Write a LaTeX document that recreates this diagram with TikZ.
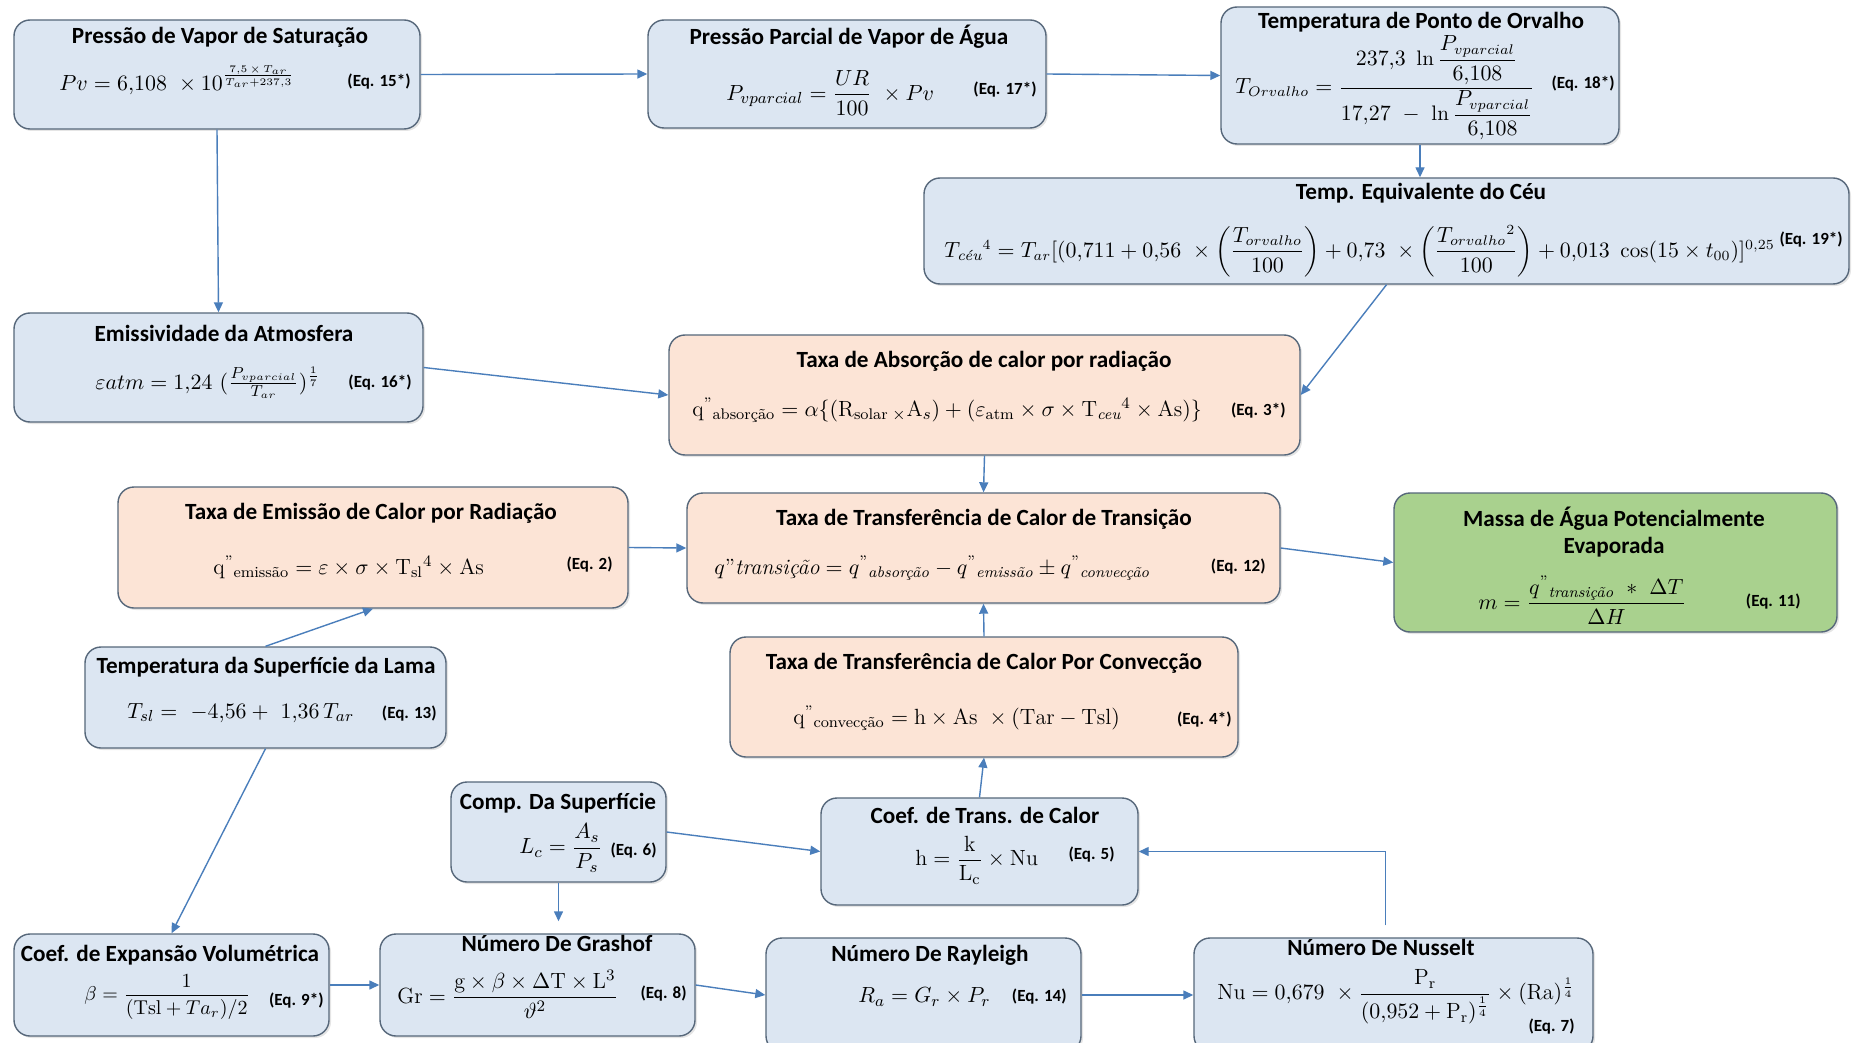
\documentclass[tikz,border=0pt]{standalone}
\usepackage{amsmath,amssymb}
\usepackage{fontspec}
\newfontfamily\carl{Carlito}
\usepackage{tikz}
\usetikzlibrary{arrows.meta,positioning,shadows}
\definecolor{bfill}{HTML}{DCE6F2}
\definecolor{ofill}{HTML}{FCE4D6}
\definecolor{gfill}{HTML}{A9D18E}
\definecolor{bdr}{HTML}{56677A}
\definecolor{arrc}{HTML}{4A7EBB}
\tikzset{
  >={Triangle[length=5pt,width=4.5pt]},
  box/.style={draw=bdr,rounded corners=8pt,line width=0.7pt,inner sep=0pt,drop shadow={opacity=0.2,shadow xshift=1pt,shadow yshift=-1pt}},
  bbox/.style={box,fill=bfill},
  obox/.style={box,fill=ofill},
  gbox/.style={box,fill=gfill},
  ttl/.style={inner sep=0pt,align=center,font=\carl\bfseries\fontsize{11.6}{13.5}\selectfont},
  eqn/.style={anchor=west,inner sep=0pt,font=\fontsize{11}{13}\selectfont},
  eqtag/.style={anchor=east,inner sep=0pt,font=\carl\bfseries\fontsize{8.5}{10}\selectfont},
  arr/.style={->,draw=arrc,line width=0.7pt},
}

\begin{document}
\begin{tikzpicture}[x=0.5pt,y=-0.5pt]
\clip (0,0) rectangle (1857,1043);
\fill[white] (0,0) rectangle (1857,1043);
% top row: vapour pressures and dew point
\node[bbox,minimum width=203pt,minimum height=54.5pt] (pvs) at (217,74.5) {};
\node[ttl] (pvs-t) at (220,37) {Pressão de Vapor de Saturação};
\node[eqn] (pvs-e) at (59,80) {$Pv = 6{,}108\ \times 10^{\frac{7{,}5\,\times\,T_{ar}}{T_{ar}+237{,}3}}$};
\node[eqtag] (pvs-n) at (411,82) {(Eq. 15*)};

\node[bbox,minimum width=199pt,minimum height=54pt] (ppv) at (847,74) {};
\node[ttl] (ppv-t) at (849,37) {Pressão Parcial de Vapor de Água};
\node[eqn] (ppv-e) at (726,93) {$P_{vparcial} = \dfrac{UR}{100}\ \times Pv$};
\node[eqtag] (ppv-n) at (1037,90) {(Eq. 17*)};

\node[bbox,minimum width=199pt,minimum height=68.5pt] (tpo) at (1420,75.5) {};
\node[ttl] (tpo-t) at (1421,22) {Temperatura de Ponto de Orvalho};
\node[eqn,font=\fontsize{10.5}{12}\selectfont] (tpo-e) at (1235,88) {$T_{Orvalho} = \dfrac{237{,}3\ \ln\dfrac{P_{vparcial}}{6{,}108}}{17{,}27\ -\ \ln\dfrac{P_{vparcial}}{6{,}108}}$};
\node[eqtag] (tpo-n) at (1615,84) {(Eq. 18*)};

% sky temperature
\node[bbox,minimum width=462.5pt,minimum height=53pt] (tec) at (1386.5,231) {};
\node[ttl] (tec-t) at (1421,193) {Temp. Equivalente do Céu};
\node[eqn,font=\fontsize{10.5}{12}\selectfont] (tec-e) at (944,251) {$T_{\textit{céu}}{}^{4} = T_{ar}[(0{,}711+0{,}56\ \times\left(\dfrac{T_{orvalho}}{100}\right)+0{,}73\ \times\left(\dfrac{T_{orvalho}{}^{2}}{100}\right)+0{,}013\ \cos(15\times t_{00})]^{0{,}25}$};
\node[eqtag] (tec-n) at (1843,240) {(Eq. 19*)};

% emissivity and absorption
\node[bbox,minimum width=204.5pt,minimum height=54.5pt] (ea) at (218.5,367.5) {};
\node[ttl] (ea-t) at (224,333) {Emissividade da Atmosfera};
\node[eqn] (ea-e) at (95,383) {$\varepsilon atm = 1{,}24\ (\frac{P_{vparcial}}{T_{ar}})^{\frac{1}{7}}$};
\node[eqtag] (ea-n) at (412,383) {(Eq. 16*)};

\node[obox,minimum width=315.5pt,minimum height=60pt] (abs) at (984.5,395) {};
\node[ttl] (abs-t) at (984,361) {Taxa de Absorção de calor por radiação};
\node[eqn] (abs-e) at (692,410) {$\mathrm{q}^{\text{"}}{}_{\text{absorção}} = \alpha\{(\mathrm{R}_{\text{solar}}\,{}_{\times}\mathrm{A}_{s}) + (\varepsilon_{\text{atm}}\times\sigma\times\mathrm{T}_{\textit{ceu}}{}^{4}\times\text{As})\}$};
\node[eqtag] (abs-n) at (1286,411) {(Eq. 3*)};

% middle row
\node[obox,minimum width=255pt,minimum height=60.5pt] (emi) at (373,547.5) {};
\node[ttl] (emi-t) at (371,513) {Taxa de Emissão de Calor por Radiação};
\node[eqn] (emi-e) at (213,567) {$\mathrm{q}^{\text{"}}{}_{\text{emissão}} = \varepsilon\times\sigma\times\mathrm{T}_{\text{sl}}{}^{4}\times\text{As}$};
\node[eqtag] (emi-n) at (613,565) {(Eq. 2)};

\node[obox,minimum width=296.5pt,minimum height=55pt] (trn) at (983.5,548) {};
\node[ttl] (trn-t) at (984,519) {Taxa de Transferência de Calor de Transição};
\node[eqn] (trn-e) at (714,568) {$q\text{"}\textit{transição} = q^{\text{"}}{}_{\textit{absorção}} - q^{\text{"}}{}_{\textit{emissão}} \pm q^{\text{"}}{}_{\textit{convecção}}$};
\node[eqtag] (trn-n) at (1266,567) {(Eq. 12)};

\node[gbox,minimum width=221.5pt,minimum height=69.5pt] (mas) at (1615.5,562.5) {};
\node[ttl] (mas-t) at (1614,532) {Massa de Água Potencialmente\\Evaporada};
\node[eqn] (mas-e) at (1478,600) {$m = \dfrac{q^{\text{"}}{}_{\textit{transição}}\ *\ \Delta T}{\Delta H}$};
\node[eqtag] (mas-n) at (1801,602) {(Eq. 11)};

\node[bbox,minimum width=180.5pt,minimum height=50.5pt] (tsl) at (265.5,697.5) {};
\node[ttl] (tsl-t) at (266,667) {Temperatura da Superfície da Lama};
\node[eqn] (tsl-e) at (127,713) {$T_{sl} =\ -4{,}56+\ 1{,}36\,T_{ar}$};
\node[eqtag] (tsl-n) at (437,714) {(Eq. 13)};

\node[obox,minimum width=254pt,minimum height=60pt] (cnv) at (984,697) {};
\node[ttl] (cnv-t) at (984,663) {Taxa de Transferência de Calor Por Convecção};
\node[eqn] (cnv-e) at (793,718) {$\mathrm{q}^{\text{"}}{}_{\text{convecção}} = \mathrm{h}\times\mathrm{As}\ \times(\mathrm{Tar}-\mathrm{Tsl})$};
\node[eqtag] (cnv-n) at (1232,720) {(Eq. 4*)};

% lower rows: convection coefficients
\node[bbox,minimum width=107.5pt,minimum height=50pt] (comp) at (558.5,832) {};
\node[ttl] (comp-t) at (558,803) {Comp. Da Superfície};
\node[eqn] (comp-e) at (519,848) {$L_c = \dfrac{A_s}{P_s}$};
\node[eqtag] (comp-n) at (657,851) {(Eq. 6)};

\node[bbox,minimum width=158.5pt,minimum height=53.5pt] (coef) at (979.5,851.5) {};
\node[ttl] (coef-t) at (985,815) {Coef. de Trans. de Calor};
\node[eqn] (coef-e) at (915,860) {$\mathrm{h} = \dfrac{\mathrm{k}}{\mathrm{L_c}}\times\mathrm{Nu}$};
\node[eqtag] (coef-n) at (1115,855) {(Eq. 5)};

\node[bbox,minimum width=157.5pt,minimum height=51pt] (exp) at (171.5,985) {};
\node[ttl] (exp-t) at (170,955) {Coef. de Expansão Volumétrica};
\node[eqn,font=\fontsize{10}{12}\selectfont] (exp-e) at (84,997) {$\beta = \dfrac{1}{(\mathrm{Tsl}+Ta_r)/2}$};
\node[eqtag] (exp-n) at (324,1001) {(Eq. 9*)};

\node[bbox,minimum width=157.5pt,minimum height=51pt] (gra) at (537.5,985) {};
\node[ttl] (gra-t) at (557,943) {Número De Grashof};
\node[eqn] (gra-e) at (397,994) {$\mathrm{Gr} = \dfrac{\mathrm{g}\times\beta\times\Delta\mathrm{T}\times\mathrm{L}^{3}}{\vartheta^{2}}$};
\node[eqtag] (gra-n) at (687,994) {(Eq. 8)};

\node[bbox,minimum width=157.5pt,minimum height=57pt] (ray) at (923.5,995) {};
\node[ttl] (ray-t) at (930,955) {Número De Rayleigh};
\node[eqn] (ray-e) at (858,997) {$R_a = G_r\times P_r$};
\node[eqtag] (ray-n) at (1067,997) {(Eq. 14)};

\node[bbox,minimum width=199.5pt,minimum height=57pt] (nus) at (1393.5,995) {};
\node[ttl] (nus-t) at (1381,947) {Número De Nusselt};
\node[eqn] (nus-e) at (1217,997) {$\mathrm{Nu} = 0{,}679\ \times\dfrac{\mathrm{P_r}}{(0{,}952+\mathrm{P_r})^{\frac{1}{4}}}\times(\mathrm{Ra})^{\frac{1}{4}}$};
\node[eqtag] (nus-n) at (1575,1027) {(Eq. 7)};

% connectors
\draw[arr] (pvs.south) -- (ea.north);
\draw[arr] (pvs.east) -- (ppv.west);
\draw[arr] (ppv.east) -- (tpo.west);
\draw[arr] (tpo.south) -- (tpo.south |- tec.north);
\draw[arr] (tec.south) -- (abs.east);
\draw[arr] (ea.east) -- (abs.west);
\draw[arr] (abs.south) -- (trn.north);
\draw[arr] (emi.east) -- (trn.west);
\draw[arr] (trn.east) -- (mas.west);
\draw[arr] (tsl.north) -- (emi.south);
\draw[arr] (cnv.north) -- (trn.south);
\draw[arr] (coef.north) -- (cnv.south);
\draw[arr] (tsl.south) -- (exp.north);
\draw[arr] (comp.east) -- (coef.west);
\draw[arr,shorten >=6pt] (comp.south) -- (comp.south |- gra.north);
\draw[arr] (exp.east) -- (gra.west);
\draw[arr] (gra.east) -- (ray.west);
\draw[arr] (ray.east) -- (nus.west);
\draw[arr,shorten <=6pt] ([xshift=-4pt]nus.north) |- (coef.east);
\end{tikzpicture}
\end{document}
